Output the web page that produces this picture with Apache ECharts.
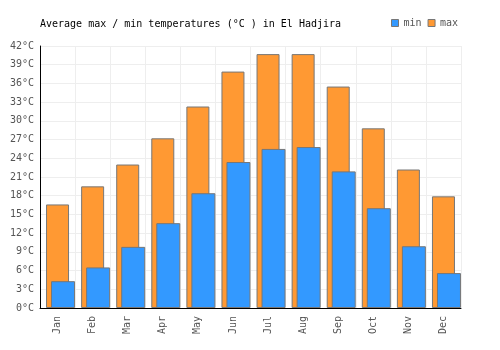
<!DOCTYPE html>
<html>
<head>
<meta charset="utf-8">
<script src="https://cdn.jsdelivr.net/npm/echarts@6/dist/echarts.min.js"></script>
<style>
  html, body { margin: 0; padding: 0; background: #fff; }
  #chart { width: 500px; height: 350px; }
</style>
</head>
<body>
<div id="chart"></div>
<script>
// Monthly averages
const months = ['Jan', 'Feb', 'Mar', 'Apr', 'May', 'Jun', 'Jul', 'Aug', 'Sep', 'Oct', 'Nov', 'Dec'];
const minTemps = [4.3, 6.5, 9.8, 13.6, 18.4, 23.4, 25.5, 25.8, 21.9, 16.0, 9.9, 5.6];
const maxTemps = [16.6, 19.5, 23.0, 27.2, 32.3, 37.9, 40.7, 40.7, 35.5, 28.8, 22.2, 17.9];
const spacer = months.map(() => null); // empty series that pushes the min bars to the right

const font = '"DejaVu Sans Mono", monospace';
const grey = '#555';

const chart = echarts.init(document.getElementById('chart'), null, { renderer: 'canvas' });

chart.setOption({
  animation: false,
  backgroundColor: '#fff',
  textStyle: { fontFamily: font },
  title: {
    text: 'Average max / min temperatures (°C ) in El Hadjira',
    left: 40,
    top: 19,
    padding: 0,
    textStyle: { fontFamily: font, fontSize: 10, fontWeight: 'normal', color: '#000' },
  },
  legend: {
    data: ['min', 'max'],
    left: 391,
    top: 18,
    padding: 0,
    itemGap: 6,
    itemWidth: 7,
    itemHeight: 7,
    icon: 'rect',
    itemStyle: { borderColor: '#777', borderWidth: 1 },
    textStyle: { fontFamily: font, fontSize: 10, color: grey },
  },
  grid: { left: 40, right: 39, top: 46, bottom: 42, containLabel: false },
  xAxis: [
    {
      type: 'category',
      data: months,
      axisLine: { lineStyle: { color: '#000' } },
      axisTick: { show: false },
      axisLabel: { rotate: 90, color: grey, fontFamily: font, fontSize: 10, margin: 8 },
      splitLine: { show: true, lineStyle: { color: '#eee' } },
    },
    { type: 'category', data: months, show: false },
  ],
  yAxis: {
    type: 'value',
    min: 0,
    max: 42,
    interval: 3,
    axisLine: { show: true, lineStyle: { color: '#000' } },
    axisTick: { show: false },
    axisLabel: { formatter: '{value}°C', color: grey, fontFamily: font, fontSize: 10, margin: 6 },
    splitLine: { lineStyle: { color: '#eee' } },
  },
  series: [
    {
      name: 'max',
      type: 'bar',
      xAxisIndex: 0,
      barWidth: 23,
      data: maxTemps,
      itemStyle: { color: '#FF9933', borderColor: '#777', borderWidth: 1 },
    },
    {
      name: 'spacer',
      type: 'bar',
      xAxisIndex: 1,
      barWidth: 11,
      barGap: '0%',
      silent: true,
      data: spacer,
    },
    {
      name: 'min',
      type: 'bar',
      xAxisIndex: 1,
      barWidth: 24,
      barGap: '0%',
      data: minTemps,
      itemStyle: { color: '#3399FF', borderColor: '#777', borderWidth: 1 },
    },
  ],
});
</script>
</body>
</html>
